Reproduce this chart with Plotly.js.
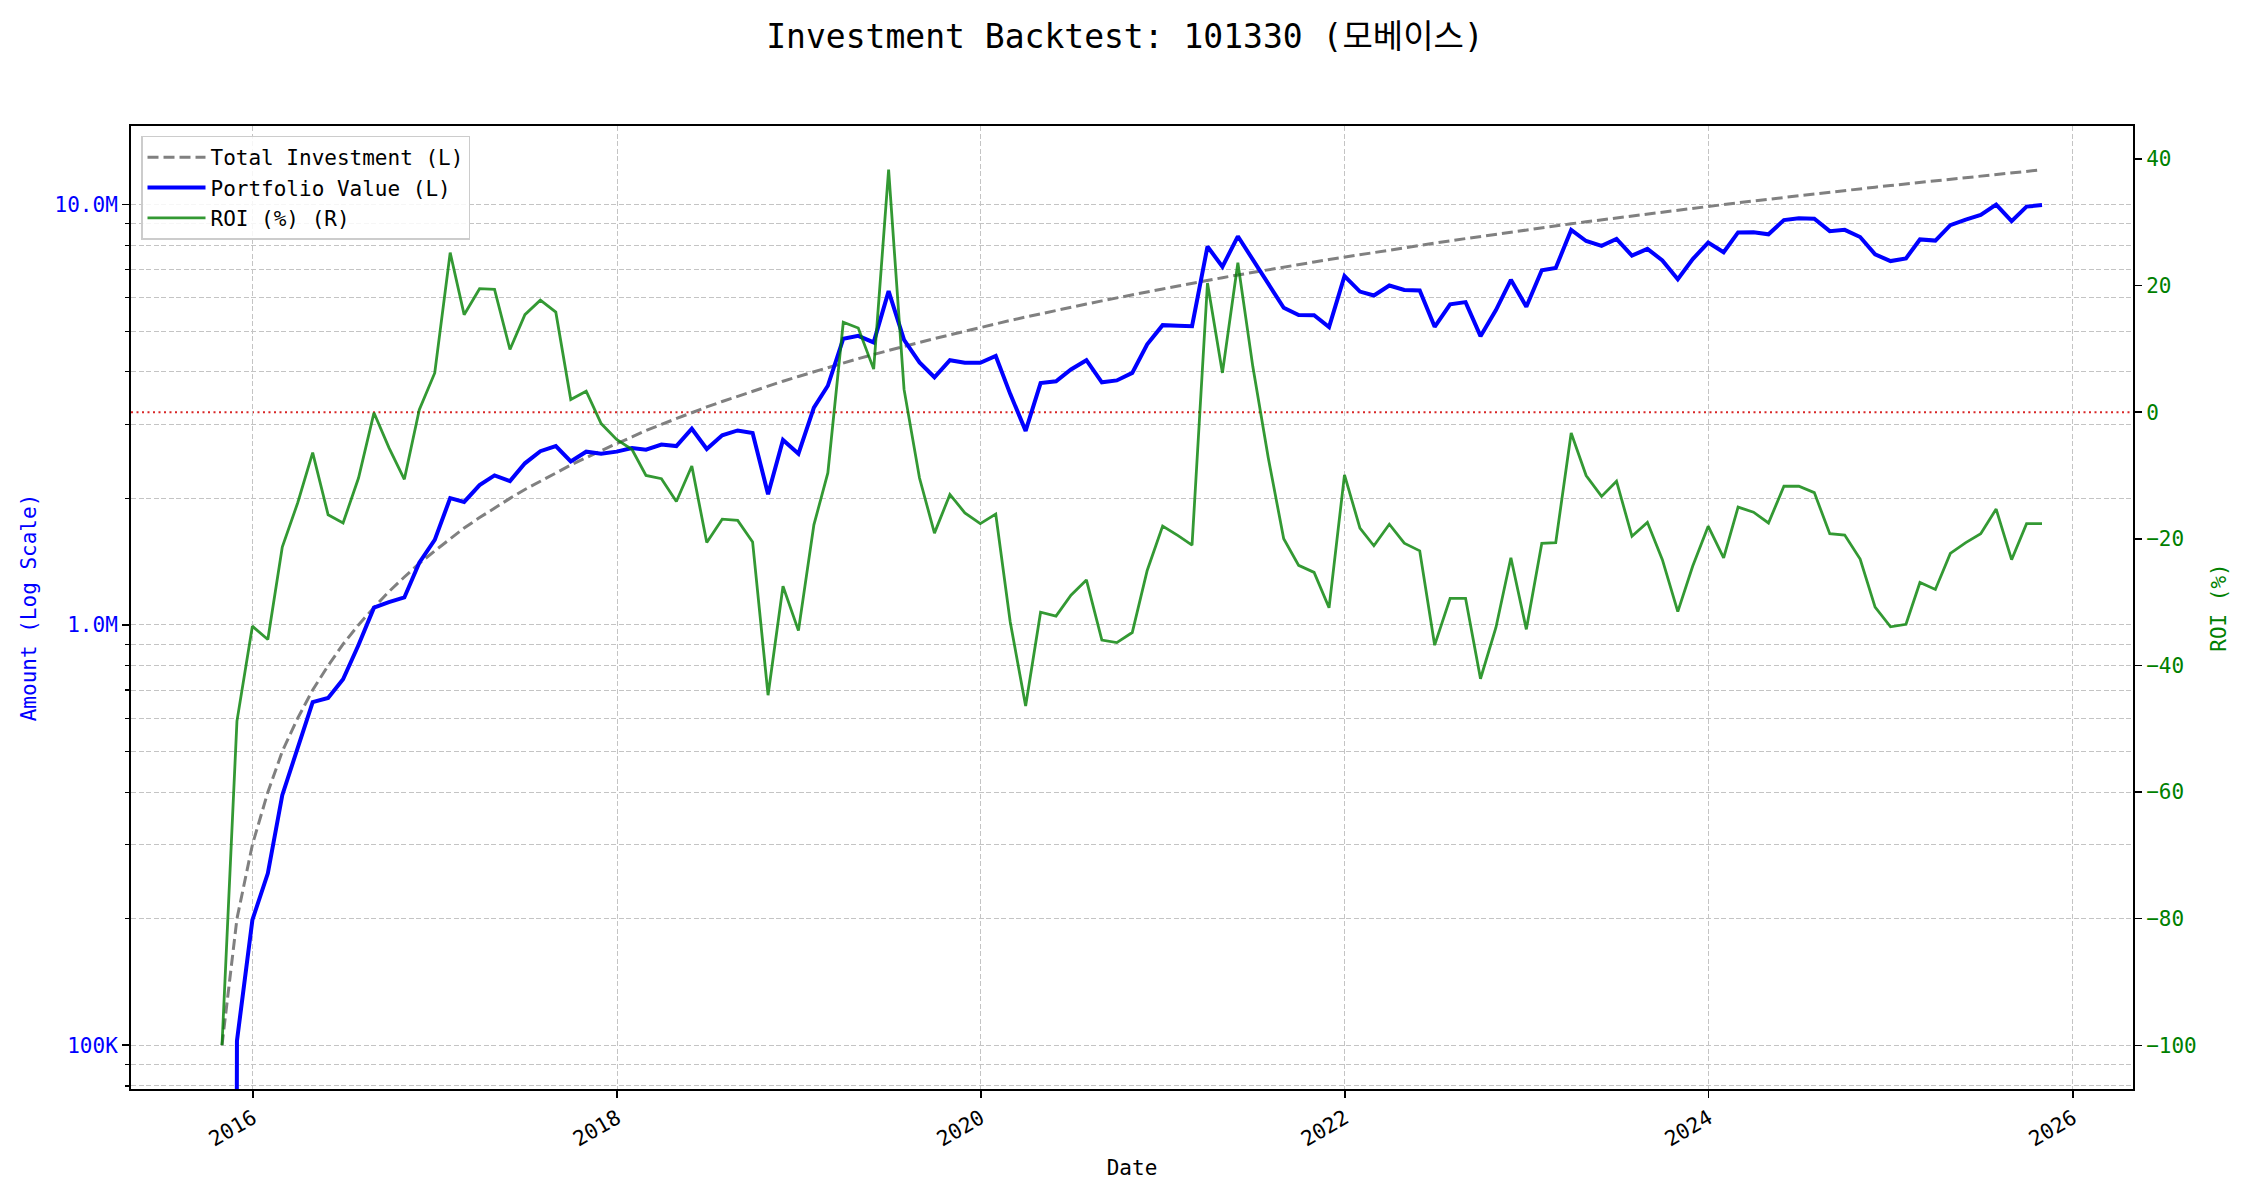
<!DOCTYPE html>
<html>
<head>
<meta charset="utf-8">
<script src="https://cdn.plot.ly/plotly-3.0.1.min.js"></script>
<style>html,body{margin:0;padding:0;background:#fff;}#chart{width:2250px;height:1200px;}</style>
</head>
<body>
<div id="chart"></div>
<script>
// ---- data ----
const dates = [
'2015-10-31','2015-11-30','2015-12-31',
'2016-01-31','2016-02-29','2016-03-31','2016-04-30','2016-05-31','2016-06-30','2016-07-31','2016-08-31','2016-09-30','2016-10-31','2016-11-30','2016-12-31',
'2017-01-31','2017-02-28','2017-03-31','2017-04-30','2017-05-31','2017-06-30','2017-07-31','2017-08-31','2017-09-30','2017-10-31','2017-11-30','2017-12-31',
'2018-01-31','2018-02-28','2018-03-31','2018-04-30','2018-05-31','2018-06-30','2018-07-31','2018-08-31','2018-09-30','2018-10-31','2018-11-30','2018-12-31',
'2019-01-31','2019-02-28','2019-03-31','2019-04-30','2019-05-31','2019-06-30','2019-07-31','2019-08-31','2019-09-30','2019-10-31','2019-11-30','2019-12-31',
'2020-01-31','2020-02-29','2020-03-31','2020-04-30','2020-05-31','2020-06-30','2020-07-31','2020-08-31','2020-09-30','2020-10-31','2020-11-30','2020-12-31',
'2021-01-31','2021-02-28','2021-03-31','2021-04-30','2021-05-31','2021-06-30','2021-07-31','2021-08-31','2021-09-30','2021-10-31','2021-11-30','2021-12-31',
'2022-01-31','2022-02-28','2022-03-31','2022-04-30','2022-05-31','2022-06-30','2022-07-31','2022-08-31','2022-09-30','2022-10-31','2022-11-30','2022-12-31',
'2023-01-31','2023-02-28','2023-03-31','2023-04-30','2023-05-31','2023-06-30','2023-07-31','2023-08-31','2023-09-30','2023-10-31','2023-11-30','2023-12-31',
'2024-01-31','2024-02-29','2024-03-31','2024-04-30','2024-05-31','2024-06-30','2024-07-31','2024-08-31','2024-09-30','2024-10-31','2024-11-30','2024-12-31',
'2025-01-31','2025-02-28','2025-03-31','2025-04-30','2025-05-31','2025-06-30','2025-07-31','2025-08-31','2025-09-30','2025-10-31'
];

const totalInvestment = [
100000,200000,300000,400000,500000,600000,700000,800000,900000,1000000,
1100000,1200000,1300000,1400000,1500000,1600000,1700000,1800000,1900000,2000000,
2100000,2200000,2300000,2400000,2500000,2600000,2700000,2800000,2900000,3000000,
3100000,3200000,3300000,3400000,3500000,3600000,3700000,3800000,3900000,4000000,
4100000,4200000,4300000,4400000,4500000,4600000,4700000,4800000,4900000,5000000,
5100000,5200000,5300000,5400000,5500000,5600000,5700000,5800000,5900000,6000000,
6100000,6200000,6300000,6400000,6500000,6600000,6700000,6800000,6900000,7000000,
7100000,7200000,7300000,7400000,7500000,7600000,7700000,7800000,7900000,8000000,
8100000,8200000,8300000,8400000,8500000,8600000,8700000,8800000,8900000,9000000,
9100000,9200000,9300000,9400000,9500000,9600000,9700000,9800000,9900000,10000000,
10100000,10200000,10300000,10400000,10500000,10600000,10700000,10800000,10900000,11000000,
11100000,11200000,11300000,11400000,11500000,11600000,11700000,11800000,11900000,12000000,
12100000
];

const portfolioValue = [
0,102400,198600,256400,393500,514200,655200,670400,742500,896000,
1098900,1132800,1162200,1405600,1593000,2003200,1961800,2151000,2268600,2198000,
2423400,2589400,2663400,2448000,2582500,2553200,2583900,2634800,2610000,2685000,
2662900,2928000,2620200,2825400,2901500,2862000,2046100,2755000,2554500,3288000,
3706400,4796400,4871900,4699200,6223500,4765600,4211200,3883200,4263000,4205000,
4202400,4362800,3545700,2894400,3762000,3796800,4052700,4263000,3776000,3816000,
3977200,4650000,5166000,5152000,5135000,7946400,7115400,8404800,7396800,6496000,
5680000,5457600,5453100,5113400,6757500,6209200,6075300,6419400,6264700,6248000,
5119200,5789200,5859800,4863600,5610000,6622000,5715900,6978400,7066600,8703000,
8190000,7976400,8286300,7557600,7847000,7363200,6644500,7418600,8118000,7700000,
8585000,8588400,8497500,9183200,9271500,9253800,8645600,8704800,8371200,7612000,
7337100,7448000,8260300,8208000,8935500,9210400,9453600,9994600,9127300,9888000,
9970400
];

const roiPct = [
-100,-48.8,-33.8,-35.9,-21.3,-14.3,-6.4,-16.2,-17.5,-10.4,
-0.1,-5.6,-10.6,0.4,6.2,25.2,15.4,19.5,19.4,9.9,
15.4,17.7,15.8,2.0,3.3,-1.8,-4.3,-5.9,-10.0,-10.5,
-14.1,-8.5,-20.6,-16.9,-17.1,-20.5,-44.7,-27.5,-34.5,-17.8,
-9.6,14.2,13.3,6.8,38.3,3.6,-10.4,-19.1,-13.0,-15.9,
-17.6,-16.1,-33.1,-46.4,-31.6,-32.2,-28.9,-26.5,-36.0,-36.4,
-34.8,-25.0,-18.0,-19.5,-21.0,20.4,6.2,23.6,7.2,-7.2,
-20.0,-24.2,-25.3,-30.9,-9.9,-18.3,-21.1,-17.7,-20.7,-21.9,
-36.8,-29.4,-29.4,-42.1,-34.0,-23.0,-34.3,-20.7,-20.6,-3.3,
-10.0,-13.3,-10.9,-19.6,-17.4,-23.3,-31.5,-24.3,-18.0,-23.0,
-15.0,-15.8,-17.5,-11.7,-11.7,-12.7,-19.2,-19.4,-23.2,-30.8,
-33.9,-33.5,-26.9,-28.0,-22.3,-20.6,-19.2,-15.3,-23.3,-17.6,
-17.6
];

const leftTickVals = [1e5, 1e6, 1e7];
const leftTickText = ['100K', '1.0M', '10.0M'];
const leftMinorVals = [8e4, 9e4, 2e5, 3e5, 4e5, 5e5, 6e5, 7e5, 8e5, 9e5,
  2e6, 3e6, 4e6, 5e6, 6e6, 7e6, 8e6, 9e6];
const rightTickVals = [-100, -80, -60, -40, -20, 0, 20, 40];

// log-scale clipping of non-positive values (as matplotlib's nonpositive='clip')
const LOG_CLIP = 1e-10;
const portfolioPlot = portfolioValue.map(v => v > 0 ? v : LOG_CLIP);

const MONO = 'DejaVu Sans Mono, Noto Sans CJK KR, monospace';
const GRID = '#c4c4c4';

const traces = [
  {x: dates, y: totalInvestment, name: 'Total Investment (L)', type: 'scatter', mode: 'lines',
   line: {color: 'rgb(128,128,128)', width: 3, dash: '11px,5px'}, yaxis: 'y'},
  {x: dates, y: portfolioPlot, name: 'Portfolio Value (L)', type: 'scatter', mode: 'lines',
   line: {color: 'rgb(0,0,255)', width: 4}, yaxis: 'y'},
  {x: dates, y: roiPct, name: 'ROI (%) (R)', type: 'scatter', mode: 'lines',
   line: {color: 'rgba(0,128,0,0.8)', width: 2.8}, yaxis: 'y2'}
];

const layout = {
  width: 2250, height: 1200,
  paper_bgcolor: '#ffffff', plot_bgcolor: '#ffffff',
  margin: {l: 131, r: 117, t: 126, b: 111, pad: 0},
  font: {family: MONO, size: 21, color: '#000'},
  title: {text: 'Investment Backtest: 101330 (모베이스)', font: {family: MONO, size: 33, color: '#000'},
          x: 0.5, xref: 'container', xanchor: 'center', y: 0.97, yref: 'container', yanchor: 'middle'},
  showlegend: true,
  legend: {x: 0.005, y: 0.99, xanchor: 'left', yanchor: 'top', bgcolor: 'rgba(255,255,255,0.85)',
           bordercolor: '#cccccc', borderwidth: 1.5, font: {family: MONO, size: 21, color: '#000'},
           traceorder: 'normal', itemwidth: 58},
  xaxis: {
    type: 'date', range: ['2015-05-01 08:24', '2026-05-01 15:36'],
    tick0: '2016-01-01', dtick: 'M24', tickformat: '%Y', tickangle: -30,
    ticks: 'outside', ticklen: 7, tickwidth: 1.6, tickcolor: '#000',
    showgrid: true, gridcolor: GRID, gridwidth: 1, griddash: '5px,2.5px',
    showline: true, linecolor: '#000', linewidth: 2, mirror: true, zeroline: false,
    tickfont: {family: MONO, size: 21, color: '#000'},
    title: {text: 'Date', font: {family: MONO, size: 21, color: '#000'}, standoff: 10}
  },
  yaxis: {
    type: 'log', range: [4.8959, 7.1869],
    tickmode: 'array', tickvals: leftTickVals, ticktext: leftTickText,
    ticks: 'outside', ticklen: 7, tickwidth: 1.6, tickcolor: '#000',
    tickfont: {family: MONO, size: 21, color: 'rgb(0,0,255)'},
    showgrid: true, gridcolor: GRID, gridwidth: 1, griddash: '5px,2.5px',
    minor: {tickmode: 'array', tickvals: leftMinorVals, ticks: 'outside', ticklen: 4, tickwidth: 1.2, tickcolor: '#000',
            showgrid: true, gridcolor: GRID, gridwidth: 1, griddash: '5px,2.5px'},
    showline: true, linecolor: '#000', linewidth: 2, mirror: true, zeroline: false,
    title: {text: 'Amount (Log Scale)', font: {family: MONO, size: 21, color: 'rgb(0,0,255)'}, standoff: 12}
  },
  yaxis2: {
    overlaying: 'y', side: 'right', range: [-106.9, 45.2],
    tickmode: 'array', tickvals: rightTickVals,
    ticks: 'outside', ticklen: 7, tickwidth: 1.6, tickcolor: '#000',
    tickfont: {family: MONO, size: 21, color: 'rgb(0,128,0)'},
    showgrid: false, zeroline: false, showline: true, linecolor: '#000', linewidth: 2,
    title: {text: 'ROI (%)', font: {family: MONO, size: 21, color: 'rgb(0,128,0)'}, standoff: 16}
  },
  shapes: [
    {type: 'line', xref: 'paper', x0: 0, x1: 1, yref: 'y2', y0: 0, y1: 0, layer: 'below',
     line: {color: 'rgba(210,0,0,0.85)', width: 2, dash: '2px,3.5px'}}
  ]
};

Plotly.newPlot('chart', traces, layout, {staticPlot: true, displayModeBar: false});
</script>
</body>
</html>
